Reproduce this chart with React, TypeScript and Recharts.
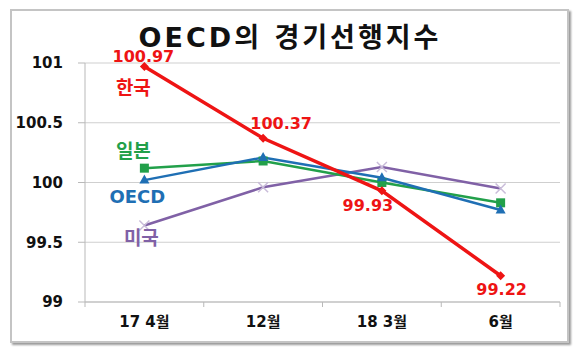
import { CartesianGrid, LabelList, Line, LineChart, XAxis, YAxis } from "recharts";

// OECD composite leading indicators, 2017.4 - 2018.6

const months = ["17 4월", "12월", "18 3월", "6월"];
const korea = [100.97, 100.37, 99.93, 99.22];
const japan = [100.12, 100.18, 100.0, 99.83];
const oecd = [100.02, 100.21, 100.04, 99.77];
const usa = [99.64, 99.96, 100.13, 99.95];
const yTicks = [99, 99.5, 100, 100.5, 101];

const RED = "#ee1414";
const GREEN = "#22a04a";
const BLUE = "#1f6fb4";
const PURPLE = "#8061a6";
const GRID = "#cfcfcf";
const AXIS = "#b9b9b9";

const LATIN = "'DejaVu Sans', 'Noto Sans CJK KR', sans-serif";
const X_TICK_MARGIN = 14;

// where each Korea value label sits relative to its point
const koreaLabelOffsets = [
  { dx: -1, dy: -10 },
  { dx: 18, dy: -15 },
  { dx: -14, dy: 15 },
  { dx: 1, dy: 14 },
];

const data = months.map((m, i) => ({
  month: m,
  korea: korea[i],
  japan: japan[i],
  oecd: oecd[i],
  usa: usa[i],
}));

function Diamond({ cx, cy }: any) {
  if (cx == null || cy == null) return null;
  const r = 4.5;
  return (
    <path
      d={`M${cx},${cy - r}L${cx + r},${cy}L${cx},${cy + r}L${cx - r},${cy}Z`}
      fill={RED}
    />
  );
}

function Square({ cx, cy }: any) {
  if (cx == null || cy == null) return null;
  return <rect x={cx - 4.5} y={cy - 4.5} width={9} height={9} fill={GREEN} />;
}

function Triangle({ cx, cy }: any) {
  if (cx == null || cy == null) return null;
  return (
    <path
      d={`M${cx},${cy - 5.5}L${cx + 5},${cy + 3.5}L${cx - 5},${cy + 3.5}Z`}
      fill={BLUE}
    />
  );
}

function Cross({ cx, cy }: any) {
  if (cx == null || cy == null) return null;
  const r = 5;
  return (
    <path
      d={`M${cx - r},${cy - r}L${cx + r},${cy + r}M${cx - r},${cy + r}L${cx + r},${cy - r}`}
      stroke="#c9bcd9"
      strokeWidth={1.5}
    />
  );
}

// Excel-style category tick: label in the middle, tick marks on band edges
function MonthTick(props: any) {
  const { x, y, payload, index, visibleTicksCount } = props;
  const half = payload.offset || 0;
  const axisY = y - X_TICK_MARGIN;
  return (
    <g>
      <line x1={x - half} x2={x - half} y1={axisY} y2={axisY + 5} stroke={AXIS} />
      {index === visibleTicksCount - 1 && (
        <line x1={x + half} x2={x + half} y1={axisY} y2={axisY + 5} stroke={AXIS} />
      )}
      <text
        x={x}
        y={y}
        dy="0.71em"
        textAnchor="middle"
        fill="#111"
        fontFamily={LATIN}
        fontWeight="bold"
        fontSize={15}
      >
        {payload.value}
      </text>
    </g>
  );
}

function seriesName(name: string, color: string, dx: number, dy: number, size = 19) {
  return (props: any) => {
    if (props.index !== 0) return null;
    return (
      <text
        x={props.x + dx}
        y={props.y + dy}
        textAnchor="middle"
        dominantBaseline="central"
        fill={color}
        fontFamily={LATIN}
        fontWeight="bold"
        fontSize={size}
      >
        {name}
      </text>
    );
  };
}

function koreaValue(props: any) {
  const off = koreaLabelOffsets[props.index];
  return (
    <text
      x={props.x + off.dx}
      y={props.y + off.dy}
      textAnchor="middle"
      dominantBaseline="central"
      fill={RED}
      fontFamily={LATIN}
      fontWeight="bold"
      fontSize={16}
    >
      {korea[props.index].toFixed(2)}
    </text>
  );
}

export default function App() {
  return (
    <div style={{ position: "absolute", left: 0, top: 0, width: 580, height: 353, background: "#fff" }}>
      <div
        style={{
          position: "absolute",
          left: 10,
          top: 9,
          width: 555,
          height: 330,
          border: "2px solid #c4c4c4",
          boxShadow: "2px 2px 2px #9a9a9a",
          background: "#fff",
        }}
      />
      <div
        style={{
          position: "absolute",
          left: 0,
          top: 26,
          width: 580,
          textAlign: "center",
          fontFamily: LATIN,
          fontWeight: "bold",
          fontSize: 27,
          letterSpacing: 3,
          color: "#111",
          lineHeight: "23px",
        }}
      >
        OECD의 경기선행지수
      </div>
      <div style={{ position: "absolute", left: 0, top: 0 }}>
        <LineChart width={580} height={353} data={data} margin={{ top: 63, right: 20, bottom: 0, left: 0 }}>
          <CartesianGrid vertical={false} stroke={GRID} strokeWidth={1} />
          <XAxis
            dataKey="month"
            scale="band"
            stroke={AXIS}
            tickLine={false}
            tickSize={0}
            height={51}
            tickMargin={X_TICK_MARGIN}
            tick={<MonthTick />}
          />
          <YAxis
            domain={[99, 101]}
            ticks={yTicks}
            width={85}
            tickSize={7}
            tickMargin={15}
            stroke={AXIS}
            tick={{ fill: "#111", fontFamily: LATIN, fontWeight: "bold", fontSize: 15 }}
          />
          <Line
            dataKey="usa"
            stroke={PURPLE}
            strokeWidth={2.5}
            dot={<Cross />}
            activeDot={false}
            isAnimationActive={false}
          >
            <LabelList dataKey="usa" content={seriesName("미국", PURPLE, -3, 12)} />
          </Line>
          <Line
            dataKey="japan"
            stroke={GREEN}
            strokeWidth={2.5}
            dot={<Square />}
            activeDot={false}
            isAnimationActive={false}
          >
            <LabelList dataKey="japan" content={seriesName("일본", GREEN, -11, -17)} />
          </Line>
          <Line
            dataKey="oecd"
            stroke={BLUE}
            strokeWidth={2.5}
            dot={<Triangle />}
            activeDot={false}
            isAnimationActive={false}
          >
            <LabelList dataKey="oecd" content={seriesName("OECD", BLUE, -7, 16, 18)} />
          </Line>
          <Line
            dataKey="korea"
            stroke={RED}
            strokeWidth={3.5}
            dot={<Diamond />}
            activeDot={false}
            isAnimationActive={false}
          >
            <LabelList dataKey="korea" content={koreaValue} />
            <LabelList dataKey="korea" content={seriesName("한국", RED, -11, 21)} />
          </Line>
        </LineChart>
      </div>
    </div>
  );
}
